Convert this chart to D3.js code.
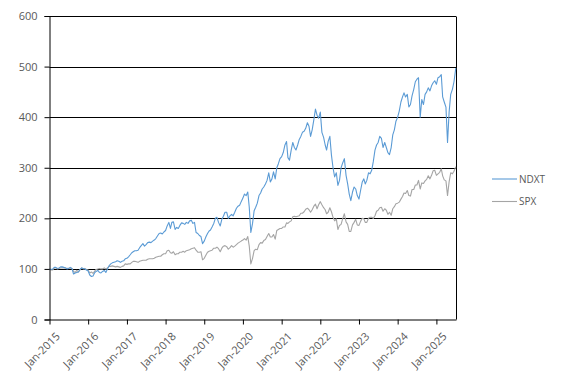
<!DOCTYPE html>
<html><head><meta charset="utf-8">
<script src="https://cdn.jsdelivr.net/npm/d3@7"></script>
<style>body{margin:0;background:#fff}svg{display:block}</style>
</head><body>
<svg id="c" width="567" height="383"></svg>
<script>
// Semi-monthly observations (1st and 16th of each month), Jan 2015 - Jun 2025, plus final point
const seriesNames = ["NDXT", "SPX"];
const finalDate = "2025-07-03";
const ndxt = [
  100, 99, 100, 103, 103, 101, 102, 104, 104, 103, 102, 100, 101, 103, 101, 90, 92, 93, 94, 99, 102, 101, 100, 98,
  96, 88, 85, 86, 92, 95, 97, 93, 92, 95, 97, 93, 100, 106, 110, 112, 113, 114, 116, 115, 113, 115, 116, 120,
  121, 124, 128, 132, 134, 136, 136, 137, 142, 146, 150, 145, 148, 152, 153, 152, 155, 157, 160, 165, 170, 171, 169, 173,
  176, 185, 192, 180, 192, 193, 178, 182, 180, 186, 191, 190, 188, 192, 190, 195, 196, 190, 192, 172, 170, 166, 164, 150,
  155, 163, 170, 175, 177, 183, 190, 200, 202, 192, 185, 198, 204, 212, 212, 200, 205, 208, 205, 212, 220, 224, 226, 233,
  240, 248, 245, 252, 222, 172, 190, 215, 222, 230, 245, 250, 258, 262, 268, 275, 290, 272, 278, 292, 278, 300, 308, 318,
  322, 330, 345, 352, 320, 315, 335, 350, 340, 335, 345, 356, 362, 370, 372, 378, 389, 382, 362, 375, 395, 416, 404, 398,
  410, 370, 360, 345, 335, 352, 362, 325, 300, 282, 290, 265, 275, 300, 310, 318, 285, 268, 248, 235, 252, 262, 258, 245,
  238, 255, 272, 278, 268, 275, 290, 288, 295, 312, 335, 345, 350, 362, 358, 340, 350, 340, 330, 326, 340, 365, 375, 392,
  400, 412, 430, 440, 448, 440, 445, 420, 425, 442, 455, 470, 475, 478, 400, 435, 425, 445, 450, 458, 452, 462, 468, 472,
  465, 478, 480, 484, 440, 430, 420, 350, 410, 445, 455, 470,
  497
];
const spx = [
  100, 98, 98, 102, 102, 100, 101, 102, 102, 102, 102, 101, 101, 102, 101, 95, 93, 97, 94, 98, 102, 100, 101, 99,
  98, 92, 94, 91, 95, 99, 100, 101, 100, 100, 102, 100, 102, 105, 105, 106, 105, 104, 105, 104, 103, 105, 106, 110,
  109, 110, 110, 113, 115, 115, 114, 113, 115, 116, 117, 117, 117, 119, 120, 120, 120, 121, 123, 124, 125, 125, 128, 130,
  130, 136, 137, 132, 131, 134, 128, 130, 130, 133, 133, 135, 133, 136, 137, 138, 140, 141, 142, 137, 133, 133, 134, 118,
  121, 127, 133, 135, 136, 137, 141, 141, 143, 140, 134, 141, 145, 146, 144, 139, 142, 146, 143, 145, 148, 151, 153, 155,
  157, 160, 157, 164, 145, 110, 121, 136, 139, 138, 148, 152, 151, 156, 158, 164, 170, 163, 163, 168, 159, 176, 178, 180,
  180, 183, 183, 191, 190, 193, 195, 203, 204, 203, 204, 205, 210, 210, 213, 218, 220, 217, 212, 217, 224, 228, 219, 227,
  233, 227, 221, 217, 209, 212, 221, 213, 202, 195, 199, 178, 186, 188, 200, 209, 193, 188, 174, 174, 187, 192, 198, 187,
  186, 194, 200, 199, 192, 192, 200, 202, 202, 200, 205, 214, 216, 221, 222, 214, 219, 216, 208, 212, 206, 219, 223, 229,
  230, 232, 238, 243, 250, 249, 255, 245, 244, 257, 257, 266, 266, 275, 258, 270, 269, 274, 277, 284, 278, 285, 294, 295,
  285, 288, 291, 298, 284, 276, 274, 245, 272, 290, 288, 293,
  302
];
const yTicks = [0, 100, 200, 300, 400, 500, 600];
const xTickYears = [2015, 2016, 2017, 2018, 2019, 2020, 2021, 2022, 2023, 2024, 2025];

// Build observation dates
const months = d3.timeMonth.range(new Date(2015, 0, 1), new Date(2025, 6, 1));
const dates = [];
months.forEach(m => { dates.push(m); dates.push(new Date(m.getFullYear(), m.getMonth(), 16)); });
dates.push(d3.timeParse("%Y-%m-%d")(finalDate));

const colors = {NDXT: "#5B9BD5", SPX: "#A5A5A5"};
const svg = d3.select("#c");
const L = 49.5, R = 456, T = 16, B = 319.5;
const x = d3.scaleTime().domain([new Date(2015, 0, 1), new Date(2025, 6, 5)]).range([L, R]);
const y = d3.scaleLinear().domain([0, 600]).range([B, T]);

// gridlines
svg.append("g").selectAll("line").data(yTicks.filter(v => v > 0)).join("line")
  .attr("x1", L).attr("x2", R).attr("y1", d => Math.round(y(d)) + 0.5).attr("y2", d => Math.round(y(d)) + 0.5)
  .attr("stroke", "#000").attr("stroke-width", 1);
// right border
svg.append("line").attr("x1", R + 0.5).attr("x2", R + 0.5).attr("y1", Math.round(y(600)) + 0.5).attr("y2", B)
  .attr("stroke", "#000");

const fontFam = "'Open Sans', 'Liberation Sans', sans-serif";

// lines
const series = [["NDXT", ndxt], ["SPX", spx]];
series.slice().reverse().forEach(([name, vals]) => {
  const line = d3.line().x((d, i) => x(dates[i])).y(d => y(d));
  svg.append("path").datum(vals).attr("d", line).attr("fill", "none")
    .attr("stroke", colors[name]).attr("stroke-width", 1.1).attr("stroke-linejoin", "round");
});

// y axis
const yAxis = svg.append("g").attr("transform", `translate(${L},0)`)
  .call(d3.axisLeft(y).tickValues(yTicks).tickSize(5).tickPadding(7).tickFormat(d3.format("d")));
yAxis.select(".domain").attr("stroke", "#000");
yAxis.selectAll(".tick line").attr("stroke", "#000");
yAxis.selectAll("text").attr("fill", "#595959").style("font-family", fontFam).style("font-size", "11px");

// x axis
const xTicks = xTickYears.map(yr => new Date(yr, 0, 1));
const xAxis = svg.append("g").attr("transform", `translate(0,${B})`)
  .call(d3.axisBottom(x).tickValues(xTicks).tickSize(5).tickSizeOuter(0).tickFormat(d3.timeFormat("Jan-%Y")));
xAxis.select(".domain").attr("stroke", "#000");
xAxis.selectAll(".tick line").attr("stroke", "#000");
xAxis.selectAll("text").attr("fill", "#595959").style("font-family", fontFam).style("font-size", "11px")
  .attr("text-anchor", "end").attr("dx", "0").attr("dy", "0")
  .attr("transform", "translate(5,12) rotate(-45)");

// legend
const leg = svg.append("g");
seriesNames.forEach((n, i) => {
  const yy = 179 + i * 22.5;
  leg.append("line").attr("x1", 492).attr("x2", 517).attr("y1", yy).attr("y2", yy)
    .attr("stroke", colors[n]).attr("stroke-width", 1.1);
  leg.append("text").attr("x", 519).attr("y", yy + 3.5).text(n)
    .attr("fill", "#595959").style("font-family", fontFam).style("font-size", "10px");
});
</script>
</body></html>
